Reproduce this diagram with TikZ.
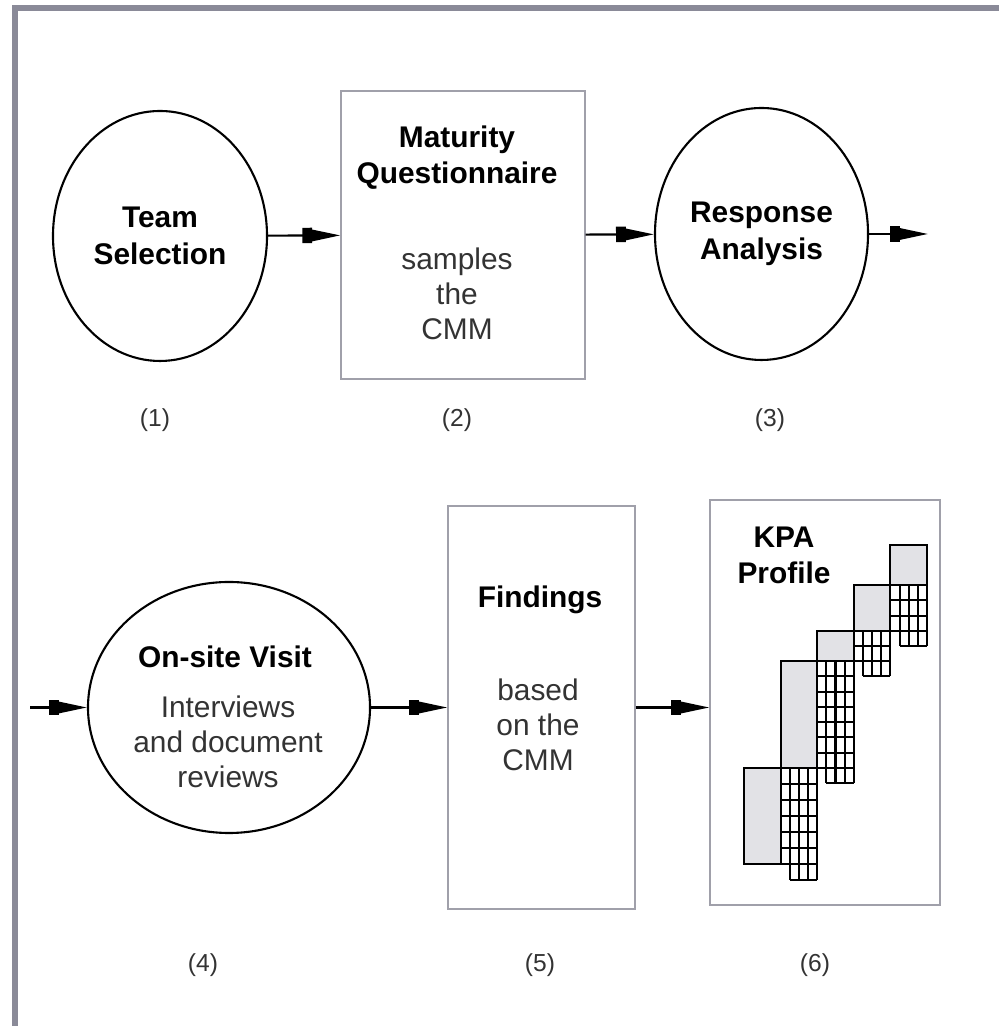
\documentclass[tikz,border=0pt]{standalone}
\usepackage{fontspec}
\setmainfont{Liberation Sans}
\usetikzlibrary{arrows.meta, shapes.geometric}

\definecolor{framegray}{RGB}{138,138,152}
\definecolor{boxgray}{RGB}{160,160,170}
\definecolor{barfill}{RGB}{226,226,230}
\definecolor{textgray}{RGB}{51,51,51}

\begin{document}
\begin{tikzpicture}
        [vertex/.style={ellipse, draw=black, semithick, inner sep=0pt, align=center,
          font=\fontsize{8.5}{10.4}\selectfont\bfseries},
        stage/.style={rectangle, draw=boxgray, thin},
        head/.style={align=center, font=\fontsize{8.5}{10.2}\selectfont\bfseries},
        body/.style={align=center, text=textgray, font=\fontsize{8.5}{10}\selectfont},
        num/.style={text=textgray, font=\fontsize{7}{8}\selectfont},
        arr/.style={-{Rectangle[length=2.8pt,width=4.4pt,sep=0pt]Triangle[length=8pt,width=3.2pt,sep=0pt]},semithick},
        bar/.style={draw=black, fill=barfill, line width=0.6pt},
        cell/.style={draw=black, line width=0.6pt}]
        \useasboundingbox (0,0) rectangle (9.99,10.26);
        \draw[framegray, line width=1.7pt] (0.15,0) |- (9.99,10.175);

        % top row
        \coordinate (out3) at (9.28,7.92);
        \node (resp) at (7.615,7.92) [vertex, minimum width=2.13cm, minimum height=2.52cm] {Response\\Analysis}
           edge[arr] (out3);
        \node (quest) at (4.63,7.91) [stage, minimum width=2.44cm, minimum height=2.88cm] {}
           edge[arr] (resp);
        \node (team) at (1.60,7.90) [vertex, minimum width=2.14cm, minimum height=2.50cm] {Team\\Selection}
           edge[arr] (quest);
        \node (questhead) at (4.57,8.685) [head] {Maturity\\Questionnaire};
        \node (questbody) at (4.57,7.32) [body] {samples\\the\\CMM};

        \node (n1) at (1.55,6.06) [num] {(1)};
        \node (n2) at (4.57,6.06) [num] {(2)};
        \node (n3) at (7.70,6.06) [num] {(3)};

        % bottom row
        \node (kpa) at (8.25,3.235) [stage, minimum width=2.30cm, minimum height=4.05cm] {};
        \node (find) at (5.415,3.185) [stage, minimum width=1.87cm, minimum height=4.03cm] {};
        \draw[arr] (find) -- (find -| kpa.west);
        \node (visit) at (2.29,3.185) [vertex, minimum width=2.82cm, minimum height=2.51cm] {}
           edge[arr] (find);
        \coordinate (in4) at (0.30,3.185);
        \draw[arr] (in4) -- (visit);

        \node (visithead) at (2.25,3.69) [head] {On-site Visit};
        \node (visitbody) at (2.28,2.84) [body] {Interviews\\and document\\reviews};
        \node (findhead) at (5.40,4.26) [head] {Findings};
        \node (findbody) at (5.38,3.01) [body] {based\\on the\\CMM};
        \node (kpahead) at (7.84,4.705) [head] {KPA\\Profile};

        \node (n4) at (2.03,0.61) [num] {(4)};
        \node (n5) at (5.40,0.61) [num] {(5)};
        \node (n6) at (8.15,0.61) [num] {(6)};

        % profile bars with their grids
        \foreach \bx/\btop/\bbot/\brows in {7.44/2.58/1.62/6, 7.806/3.65/2.58/7, 8.172/3.95/3.65/2, 8.538/4.41/3.95/3}{
          \pgfmathsetmacro{\rowh}{(\btop-\bbot)/\brows}
          \draw[bar] (\bx,\bbot) rectangle (\bx+0.366,\btop);
          \foreach \i in {0,...,\brows}
            \draw[cell] (\bx+0.366,\btop-\i*\rowh) -- (\bx+0.732,\btop-\i*\rowh);
          \draw[cell] (\bx+0.4575,\bbot-\rowh) -- (\bx+0.732,\bbot-\rowh);
          \draw[cell] (\bx+0.366,\btop) -- (\bx+0.366,\bbot);
          \foreach \j in {1,2,3,4}
            \draw[cell] (\bx+0.366+\j*0.0915,\btop) -- (\bx+0.366+\j*0.0915,\bbot-\rowh);
        }
        \draw[bar] (8.904,4.41) rectangle (9.27,4.81);
\end{tikzpicture}
\end{document}
